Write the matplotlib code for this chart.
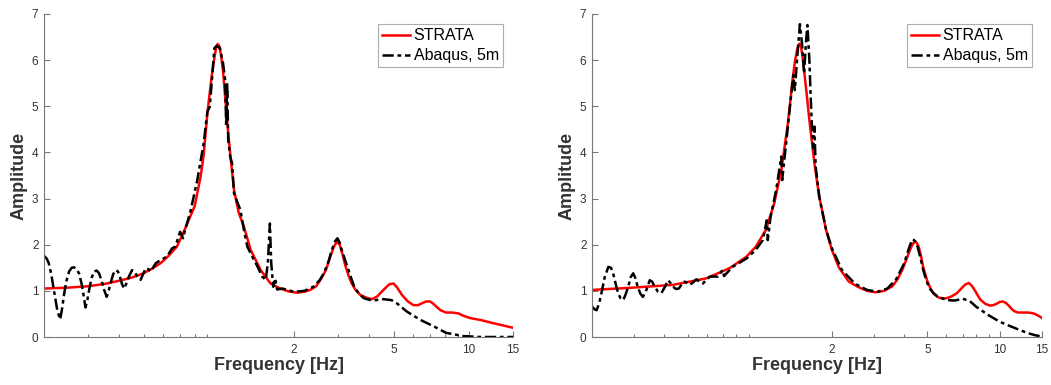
import matplotlib.pyplot as plt
from matplotlib.ticker import FixedLocator, NullFormatter

plt.rcParams['font.family'] = ['Liberation Sans', 'DejaVu Sans']

# left panel: STRATA vs Abaqus
left_freq_strata = [0.20, 0.25, 0.30, 0.35, 0.40, 0.45, 0.50, 0.54, 0.585, 0.63, 0.68, 0.72, 0.76,
                    0.80, 0.846, 0.87, 0.90, 0.92, 0.94, 0.96, 0.975, 0.99, 1.005, 1.02, 1.04,
                    1.06, 1.085, 1.11, 1.15, 1.20, 1.26, 1.34, 1.47, 1.61, 1.76, 1.90, 2.05, 2.20,
                    2.32, 2.45, 2.55, 2.68, 2.79, 2.88, 2.97, 3.04, 3.12, 3.20, 3.30, 3.40, 3.52,
                    3.68, 3.90, 4.10, 4.30, 4.55, 4.80, 4.99, 5.15, 5.40, 5.70, 6.00, 6.25, 6.48,
                    6.75, 7.00, 7.20, 7.40, 7.70, 8.10, 8.60, 9.08, 9.50, 10.1, 11.1, 12.5, 13.7,
                    15.0]
left_amp_strata = [1.05, 1.07, 1.10, 1.15, 1.22, 1.29, 1.38, 1.48, 1.60, 1.76, 1.96, 2.25, 2.55,
                   2.83, 3.48, 3.95, 4.85, 5.30, 5.72, 6.05, 6.27, 6.35, 6.30, 6.12, 5.75,
                   5.20, 4.55, 3.98, 3.19, 2.70, 2.39, 1.89, 1.45, 1.16, 1.05, 0.99, 0.96, 0.98,
                   1.02, 1.10, 1.24, 1.45, 1.74, 1.95, 2.07, 2.00, 1.80, 1.56, 1.33, 1.16, 1.02,
                   0.91, 0.85, 0.82, 0.88, 1.02, 1.14, 1.16, 1.08, 0.91, 0.77, 0.69, 0.69, 0.73,
                   0.77, 0.77, 0.72, 0.66, 0.58, 0.53, 0.53, 0.51, 0.46, 0.41, 0.37, 0.30, 0.25,
                   0.20]

left_freq_abaqus = [0.200, 0.205, 0.209, 0.214, 0.219, 0.226, 0.232, 0.236, 0.241, 0.246, 0.252,
                    0.258, 0.264, 0.270, 0.276, 0.282, 0.287, 0.293, 0.298, 0.303, 0.310, 0.317,
                    0.325, 0.332, 0.340, 0.348, 0.356, 0.362, 0.369, 0.378, 0.387, 0.395, 0.402,
                    0.410, 0.418, 0.427, 0.437, 0.450, 0.460, 0.472, 0.487, 0.498, 0.510, 0.523,
                    0.536, 0.548, 0.560, 0.585, 0.620, 0.650, 0.670, 0.700, 0.720, 0.730,
                    0.770, 0.820, 0.870, 0.900, 0.920, 0.960, 0.980, 1.010, 1.040, 1.060, 1.070,
                    1.080, 1.090, 1.110, 1.130, 1.150, 1.220, 1.260, 1.300, 1.360, 1.430, 1.490,
                    1.540, 1.570, 1.600, 1.620, 1.650, 1.680, 1.710, 1.800, 2.000, 2.200, 2.390,
                    2.520, 2.630, 2.750, 2.830, 2.920, 2.980, 3.040, 3.100, 3.200, 3.300, 3.400,
                    3.480, 3.620, 3.800, 4.100, 4.550, 4.900, 5.180, 5.650, 6.400, 7.300, 8.100,
                    9.500, 11.1, 15.0]
left_amp_abaqus = [1.76, 1.70, 1.60, 1.35, 1.02, 0.58, 0.38, 0.60, 0.95, 1.22, 1.42,
                   1.50, 1.51, 1.47, 1.38, 1.18, 0.95, 0.64, 0.80, 1.02, 1.28, 1.42,
                   1.44, 1.38, 1.22, 1.02, 0.87, 0.98, 1.16, 1.36, 1.45, 1.42, 1.31,
                   1.15, 1.05, 1.16, 1.31, 1.45, 1.42, 1.31, 1.24, 1.36, 1.49, 1.47,
                   1.42, 1.52, 1.60, 1.67, 1.74, 1.92, 1.96, 2.28, 2.14, 2.28,
                   2.72, 3.40, 4.20, 4.88, 4.99, 6.26, 6.31, 6.26, 5.93, 5.57, 4.56,
                   5.50, 4.27, 3.91, 3.76, 3.11, 2.75, 2.32, 1.96, 1.74, 1.52, 1.31,
                   1.24, 1.60, 2.46, 1.60, 1.09, 1.27, 1.03, 1.05, 0.98, 1.00, 1.09,
                   1.22, 1.38, 1.65, 1.89, 2.08, 2.14, 2.05, 1.89, 1.66, 1.45, 1.24,
                   1.09, 0.95, 0.84, 0.79, 0.82, 0.80, 0.72, 0.55, 0.37, 0.22, 0.09,
                   0.02, 0.00, 0.00]

# right panel
right_freq_strata = [0.20, 0.297, 0.435, 0.598, 0.748, 0.88, 0.964, 1.06, 1.15, 1.23, 1.31, 1.37,
                     1.40, 1.43, 1.45, 1.47, 1.49, 1.51, 1.53, 1.57, 1.61, 1.69, 1.77, 1.89, 2.00,
                     2.14, 2.35, 2.58, 2.80, 3.03, 3.30, 3.57, 3.75, 3.93, 4.07, 4.20, 4.32, 4.42,
                     4.51, 4.60, 4.70, 4.79, 4.90, 5.00, 5.14, 5.28, 5.44, 5.60, 5.80, 6.00, 6.30,
                     6.63, 7.00, 7.20, 7.43, 7.65, 7.90, 8.10, 8.30, 8.70, 9.10, 9.40, 9.70, 10.0,
                     10.3, 10.6, 10.9, 11.2, 11.5, 11.9, 12.3, 13.1, 13.6, 14.0, 14.5, 15.0]
right_amp_strata = [1.02, 1.07, 1.13, 1.27, 1.49, 1.74, 1.96, 2.32, 2.90, 3.62, 4.63, 5.57,
                    5.95, 6.22, 6.33, 6.36, 6.25, 6.05, 5.78, 5.25, 4.70, 3.76, 3.04, 2.32, 1.88,
                    1.50, 1.20, 1.08, 1.00, 0.97, 1.00, 1.10, 1.25, 1.46, 1.66, 1.85, 2.00, 2.07,
                    2.04, 1.95, 1.75, 1.53, 1.35, 1.20, 1.06, 0.95, 0.89, 0.85, 0.835, 0.84, 0.88,
                    0.95, 1.08, 1.14, 1.17, 1.11, 1.00, 0.90, 0.81, 0.72, 0.68, 0.69, 0.72, 0.76,
                    0.77, 0.74, 0.68, 0.61, 0.56, 0.53, 0.53, 0.53, 0.52, 0.50, 0.46, 0.41]

right_freq_abaqus = [0.200, 0.205, 0.209, 0.214, 0.219, 0.226, 0.234, 0.240, 0.245, 0.251, 0.257,
                     0.263, 0.270, 0.276, 0.283, 0.290, 0.297, 0.303, 0.310, 0.318, 0.326, 0.337,
                     0.348, 0.356, 0.365, 0.377, 0.389, 0.402, 0.415, 0.425, 0.435, 0.448, 0.460,
                     0.473, 0.486, 0.498, 0.510, 0.527, 0.544, 0.562, 0.580, 0.600, 0.620, 0.670,
                     0.700, 0.710, 0.770, 0.880, 0.960, 1.030, 1.050, 1.070, 1.080, 1.110,
                     1.170, 1.200, 1.230, 1.240, 1.310, 1.350, 1.380, 1.400, 1.430, 1.470, 1.500,
                     1.530, 1.560, 1.580, 1.610, 1.630, 1.650, 1.670, 1.690, 1.710, 1.770, 1.890,
                     2.000, 2.200, 2.500, 2.800, 3.100, 3.400, 3.700, 4.000, 4.100, 4.200, 4.280,
                     4.350, 4.450, 4.550, 4.680, 4.800, 4.950, 5.100, 5.300, 5.500, 6.000, 6.500,
                     7.000, 7.500, 8.000, 9.000, 10.0, 11.0, 12.0, 13.0, 14.0, 15.0]
right_amp_abaqus = [0.66, 0.60, 0.58, 0.72, 0.95, 1.30, 1.52, 1.50, 1.38, 1.15, 0.95,
                    0.84, 0.80, 0.92, 1.09, 1.30, 1.38, 1.28, 1.09, 0.94, 0.87, 1.02,
                    1.23, 1.20, 1.09, 0.98, 0.95, 1.08, 1.23, 1.17, 1.09, 1.04, 1.05,
                    1.14, 1.20, 1.17, 1.13, 1.18, 1.25, 1.20, 1.16, 1.24, 1.31, 1.31,
                    1.45, 1.32, 1.52, 1.70, 1.88, 2.10, 2.32, 2.53, 2.10, 2.61,
                    3.18, 3.55, 3.91, 3.40, 4.56, 5.21, 5.68, 5.35, 6.00, 6.78, 6.36,
                    5.71, 6.43, 6.76, 6.00, 5.21, 4.56, 4.09, 4.56, 3.69, 3.04, 2.32,
                    1.92, 1.45, 1.15, 1.02, 0.98, 1.05, 1.25, 1.60, 1.78, 1.95, 2.06,
                    2.12, 2.07, 1.95, 1.70, 1.45, 1.22, 1.05, 0.95, 0.88, 0.80, 0.79,
                    0.83, 0.78, 0.65, 0.47, 0.33, 0.24, 0.16, 0.09, 0.04, 0.01]

major_ticks = [2, 5, 10, 15]
minor_ticks = [0.3, 0.4, 0.5, 0.6, 0.7, 0.8, 0.9, 3, 4, 6, 7, 8, 9]

fig = plt.figure(figsize=(10.51, 3.85), dpi=100)
ax_left = fig.add_axes([44 / 1051, 48 / 385, 469 / 1051, 323 / 385])
ax_right = fig.add_axes([592 / 1051, 48 / 385, 450 / 1051, 323 / 385])

panels = [
    (ax_left, left_freq_strata, left_amp_strata, left_freq_abaqus, left_amp_abaqus),
    (ax_right, right_freq_strata, right_amp_strata, right_freq_abaqus, right_amp_abaqus),
]

for ax, fs, amps, fa, ampa in panels:
    ax.semilogx(fs, amps, color='#ff0000', lw=1.8, label='STRATA')
    ax.semilogx(fa, ampa, color='black', lw=1.8, ls=(0, (4.5, 1.5, 1.5, 1.5)), label='Abaqus, 5m')
    ax.set_xlim(0.2, 15)
    ax.set_ylim(0, 7)
    ax.xaxis.set_major_locator(FixedLocator(major_ticks))
    ax.xaxis.set_minor_locator(FixedLocator(minor_ticks))
    ax.xaxis.set_minor_formatter(NullFormatter())
    ax.set_xticklabels([str(t) for t in major_ticks])
    ax.set_yticks(range(8))
    ax.tick_params(which='both', direction='in', colors='#777777', labelcolor='#333333',
                   labelsize=8.5, width=0.8)
    ax.tick_params(which='major', length=4)
    ax.tick_params(which='minor', length=2.5)
    ax.tick_params(axis='y', pad=4)
    ax.tick_params(axis='x', pad=5)
    for side in ['top', 'right']:
        ax.spines[side].set_visible(False)
    for side in ['left', 'bottom']:
        ax.spines[side].set_color('#777777')
        ax.spines[side].set_linewidth(0.8)
    ax.set_xlabel('Frequency [Hz]', fontsize=13, fontweight='bold', color='#333333', labelpad=1)
    ax.set_ylabel('Amplitude', fontsize=13, fontweight='bold', color='#333333', labelpad=3)
    leg = ax.legend(loc='upper right', fontsize=11.5, frameon=True, fancybox=False,
                    handlelength=1.8, handletextpad=0.2, borderpad=0.25, labelspacing=0.3,
                    borderaxespad=0.65)
    leg.get_frame().set_edgecolor('#999999')
    leg.get_frame().set_linewidth(0.8)

fig.savefig('out.png', dpi=100)
